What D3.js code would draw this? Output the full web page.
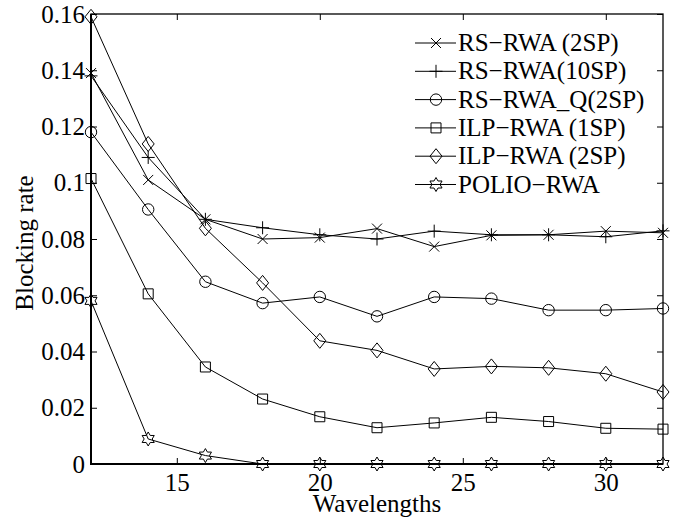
<!DOCTYPE html>
<html>
<head>
<meta charset="utf-8">
<script src="https://cdn.jsdelivr.net/npm/d3@7"></script>
<style>
  body { margin: 0; background: #fff; }
  svg text { font-family: 'Liberation Serif', 'Times New Roman', serif; fill: #000; }
</style>
</head>
<body>
<div id="chart"></div>
<script>
// Data
const wavelengths = [12, 14, 16, 18, 20, 22, 24, 26, 28, 30, 32];
const seriesNames = ['RS\u2212RWA (2SP)', 'RS\u2212RWA(10SP)', 'RS\u2212RWA_Q(2SP)', 'ILP\u2212RWA (1SP)', 'ILP\u2212RWA (2SP)', 'POLIO\u2212RWA'];
const seriesMarkers = ['x', 'plus', 'circle', 'square', 'diamond', 'hexagram'];
const rsRwa2sp = [0.139, 0.101, 0.087, 0.080, 0.0805, 0.0837, 0.0773, 0.0813, 0.0815, 0.0828, 0.0822];
const rsRwa10sp = [0.138, 0.109, 0.087, 0.084, 0.0815, 0.080, 0.0828, 0.0815, 0.0815, 0.0808, 0.0829];
const rsRwaQ2sp = [0.118, 0.0905, 0.0648, 0.0572, 0.0594, 0.0525, 0.0594, 0.0588, 0.0547, 0.0547, 0.0553];
const ilpRwa1sp = [0.1015, 0.0605, 0.0345, 0.0231, 0.0168, 0.0129, 0.0146, 0.0166, 0.0151, 0.0127, 0.0124];
const ilpRwa2sp = [0.159, 0.1138, 0.0838, 0.0644, 0.0438, 0.0404, 0.0338, 0.0347, 0.0342, 0.0321, 0.0256];
const polioRwa = [0.058, 0.0089, 0.003, 0, 0, 0, 0, 0, 0, 0, 0];
const allSeries = [rsRwa2sp, rsRwa10sp, rsRwaQ2sp, ilpRwa1sp, ilpRwa2sp, polioRwa];

const xTicks = [15, 20, 25, 30];
const yTicks = [0, 0.02, 0.04, 0.06, 0.08, 0.1, 0.12, 0.14, 0.16];
const yTickLabels = ['0', '0.02', '0.04', '0.06', '0.08', '0.1', '0.12', '0.14', '0.16'];

const width = 686;
const height = 520;
const plot = { l: 91, r: 663, t: 14, b: 464 };

const xScale = d3.scaleLinear([12, 32], [plot.l, plot.r]);
const yScale = d3.scaleLinear([0, 0.16], [plot.b, plot.t]);

// marker paths
function markerPath(type) {
  if (type === 'x') return 'M-5,-5L5,5M-5,5L5,-5';
  if (type === 'plus') return 'M-6.5,0L6.5,0M0,-6.5L0,6.5';
  if (type === 'circle') {
    const p = d3.path();
    p.arc(0, 0, 5.7, 0, 2 * Math.PI);
    return p.toString();
  }
  if (type === 'square') return 'M-5,-5L5,-5L5,5L-5,5Z';
  if (type === 'diamond') return 'M0,-7.5L6,0L0,7.5L-6,0Z';
  // hexagram outline
  const ro = 7;
  const ri = ro / Math.sqrt(3);
  const pts = [];
  for (let i = 0; i < 12; i += 1) {
    const a = -Math.PI / 2 + (i * Math.PI) / 6;
    const r = i % 2 === 0 ? ro : ri;
    pts.push([r * Math.cos(a), r * Math.sin(a)]);
  }
  return `M${pts.map((p) => p.join(',')).join('L')}Z`;
}

const svg = d3
  .select('#chart')
  .append('svg')
  .attr('width', width)
  .attr('height', height);

// axes, ticks pointing inwards
const fontSize = 25;

const xAxis = svg
  .append('g')
  .attr('transform', `translate(0, ${plot.b})`)
  .call(d3.axisBottom(xScale).tickValues(xTicks).tickSizeInner(-6).tickSizeOuter(0).tickPadding(9));
const yAxis = svg
  .append('g')
  .attr('transform', `translate(${plot.l}, 0)`)
  .call(
    d3.axisLeft(yScale)
      .tickValues(yTicks)
      .tickFormat((d, i) => yTickLabels[i])
      .tickSizeInner(-6)
      .tickSizeOuter(0)
      .tickPadding(6),
  );
svg
  .append('g')
  .attr('transform', `translate(0, ${plot.t})`)
  .call(d3.axisTop(xScale).tickValues(xTicks).tickSizeInner(-6).tickSizeOuter(0).tickFormat(''));
svg
  .append('g')
  .attr('transform', `translate(${plot.r}, 0)`)
  .call(d3.axisRight(yScale).tickValues(yTicks).tickSizeInner(-6).tickSizeOuter(0).tickFormat(''));

svg.selectAll('.domain').remove();
svg.selectAll('.tick line').attr('stroke', '#000').attr('stroke-width', 1);
svg.selectAll('.tick text')
  .style('font-family', "'Liberation Serif', 'Times New Roman', serif")
  .style('font-size', `${fontSize}px`)
  .attr('fill', '#000');

// frame
svg
  .append('rect')
  .attr('x', plot.l)
  .attr('y', plot.t)
  .attr('width', plot.r - plot.l)
  .attr('height', plot.b - plot.t)
  .attr('fill', 'none')
  .attr('stroke', '#000')
  .attr('stroke-width', 1.3);
svg
  .append('path')
  .attr('d', `M${plot.l},${plot.t}L${plot.l},${plot.b}L${plot.r},${plot.b}`)
  .attr('fill', 'none')
  .attr('stroke', '#000')
  .attr('stroke-width', 2);

// series
const line = d3
  .line()
  .x((d, i) => xScale(wavelengths[i]))
  .y((d) => yScale(d));

allSeries.forEach((values, k) => {
  const g = svg.append('g');
  g.append('path')
    .attr('d', line(values))
    .attr('fill', 'none')
    .attr('stroke', '#000')
    .attr('stroke-width', 1);
  g.selectAll('path.mk')
    .data(values)
    .join('path')
    .attr('class', 'mk')
    .attr('transform', (d, i) => `translate(${xScale(wavelengths[i])}, ${yScale(d)})`)
    .attr('d', markerPath(seriesMarkers[k]))
    .attr('fill', 'none')
    .attr('stroke', '#000')
    .attr('stroke-width', 1);
});

// legend
const legend = svg.append('g').attr('transform', 'translate(415, 51)');
seriesNames.forEach((name, k) => {
  const row = legend.append('g').attr('transform', `translate(0, ${k * 28.3})`);
  row.append('line')
    .attr('x1', 0).attr('x2', 41)
    .attr('y1', -8).attr('y2', -8)
    .attr('stroke', '#000');
  row.append('path')
    .attr('transform', 'translate(21, -8)')
    .attr('d', markerPath(seriesMarkers[k]))
    .attr('fill', 'none')
    .attr('stroke', '#000');
  row.append('text')
    .attr('x', 43)
    .attr('y', 0)
    .style('font-size', `${fontSize}px`)
    .text(name);
});

// x-axis name
svg
  .append('text')
  .attr('text-anchor', 'middle')
  .attr('x', (plot.l + plot.r) / 2)
  .attr('y', 512)
  .style('font-size', `${fontSize}px`)
  .text('Wavelengths');

// y-axis name
svg
  .append('text')
  .attr('text-anchor', 'middle')
  .attr('transform', `translate(33, 243)rotate(-90)`)
  .style('font-size', `${fontSize}px`)
  .text('Blocking rate');
</script>
</body>
</html>
